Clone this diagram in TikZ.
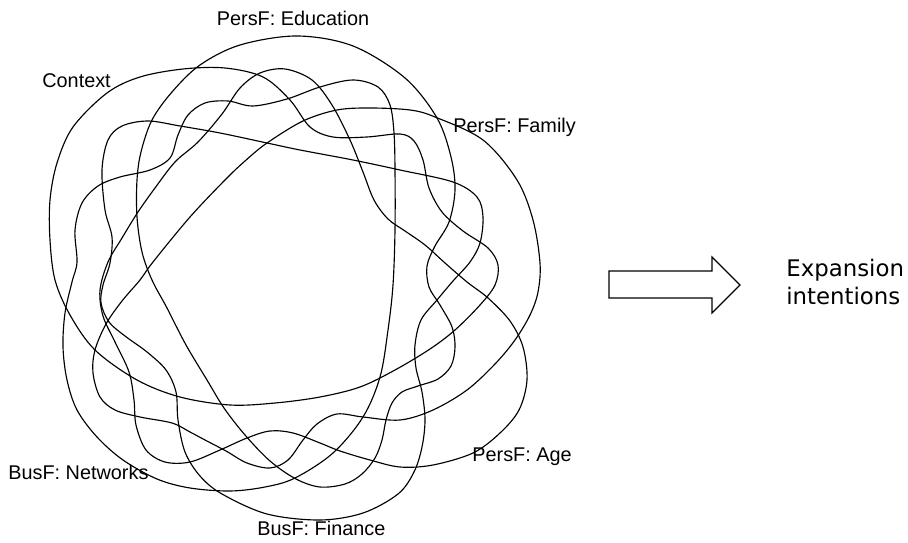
\documentclass[tikz,border=0pt]{standalone}
\usepackage{fontspec}
\setmainfont{Liberation Sans}
\newfontfamily\dejavu{DejaVu Sans}
\begin{document}
\begin{tikzpicture}[x=0.02cm,y=-0.02cm,
  venn/.style={line width=0.65pt, black},
  lbl/.style={font=\fontsize{11.3}{13}\selectfont, inner sep=0pt},
  outtxt/.style={font=\dejavu\fontsize{13}{15.5}\selectfont, inner sep=0pt, align=left}]
\useasboundingbox (0,0) rectangle (908,543);
% Context
\draw[venn] plot[smooth cycle, tension=0.55] coordinates {(183,69) (140,77) (107,93) (73,127) (57,163) (50,200) (50,240) (55,280) (70,315) (95,350) (137,380) (180,397) (230,405) (275,403) (320,397) (360,387) (395,370) (430,349) (455,330) (480,305) (495,285) (498,265) (488,248) (463,231) (442,212) (429,188) (423,160) (414,141) (400,134) (367,137) (333,137) (310,127) (290,100) (263,77) (225,68)};
% Networks
\draw[venn] plot[smooth cycle, tension=0.55] coordinates {(72,282) (65,313) (63,347) (67,380) (77,410) (97,437) (123,460) (157,479) (190,488) (230,491) (265,487) (295,478) (333,453) (363,417) (380,377) (388,330) (393,285) (395,230) (395,170) (394,133) (390,105) (378,87) (353,80) (320,87) (287,99) (253,106) (228,101) (205,103) (188,115) (178,135) (170,158) (150,170) (120,177) (98,186) (82,203) (75,230) (77,262)};
% Finance
\draw[venn] plot[smooth cycle, tension=0.55] coordinates {(477,197) (453,182) (400,170) (353,160) (300,150) (267,143) (220,133) (180,126) (148,121) (122,126) (108,140) (102,170) (105,210) (112,237) (110,263) (103,285) (101,303) (109,322) (125,336) (147,352) (166,370) (176,392) (178,420) (185,452) (200,476) (222,494) (267,514) (320,520) (363,513) (398,494) (414,472) (422,447) (425,420) (422,392) (416,368) (415,345) (421,320) (437,300) (453,281) (470,262) (480,243) (483,217)};
% Family
\draw[venn] plot[smooth cycle, tension=0.55] coordinates {(410,110) (435,117) (483,140) (517,180) (533,220) (540,263) (538,292) (530,315) (515,340) (495,364) (467,390) (433,410) (400,420) (363,417) (337,414) (317,424) (303,440) (288,460) (270,468) (247,463) (226,451) (205,440) (190,432) (172,423) (140,417) (115,410) (100,397) (93,373) (95,350) (106,324) (122,301) (140,280) (153,262) (190,217) (225,180) (245,161) (267,143) (303,121) (337,110) (370,108)};
% Education
\draw[venn] plot[smooth cycle, tension=0.55] coordinates {(297,36) (353,46) (405,78) (437,118) (451,157) (455,190) (449,222) (435,246) (427,266) (429,287) (440,305) (452,327) (455,347) (451,366) (438,379) (418,386) (402,392) (392,403) (386,420) (382,440) (375,458) (362,474) (345,484) (320,487) (296,479) (270,461) (245,435) (224,408) (207,380) (186,345) (167,308) (152,280) (142,252) (137,217) (137,180) (141,152) (152,120) (172,92) (200,65) (240,45)};
% Age
\draw[venn] plot[smooth cycle, tension=0.55] coordinates {(400,467) (433,465) (473,453) (500,433) (519,410) (527,380) (523,347) (510,321) (488,298) (467,282) (445,263) (425,245) (405,231) (388,219) (374,200) (363,172) (350,140) (332,105) (312,80) (285,69) (260,73) (240,88) (222,114) (198,142) (175,162) (155,188) (138,212) (122,238) (108,262) (100,290) (103,316) (115,342) (129,372) (134,400) (136,425) (146,450) (165,462) (190,462) (220,450) (247,438) (270,431) (293,433) (320,443) (340,451) (370,460)};
% labels
\node[lbl] (edu) at (293,18) {PersF: Education};
\node[lbl, anchor=west] (ctx) at (42,81) {Context};
\node[lbl, anchor=west] (fam) at (453,127) {PersF: Family};
\node[lbl, anchor=west] (age) at (472,457) {PersF: Age};
\node[lbl, anchor=west] (fin) at (257,528) {BusF: Finance};
\node[lbl, anchor=west] (net) at (8,472) {BusF: Networks};
% arrow
\draw[line width=0.7pt] (609,271) -- (712,271) -- (712,257) -- (740,285) -- (712,313) -- (712,298) -- (609,298) -- cycle;
\node[outtxt, anchor=west] (exp) at (786,270) {Expansion};
\node[outtxt, anchor=west] (int) at (786,296) {intentions};
\end{tikzpicture}
\end{document}
